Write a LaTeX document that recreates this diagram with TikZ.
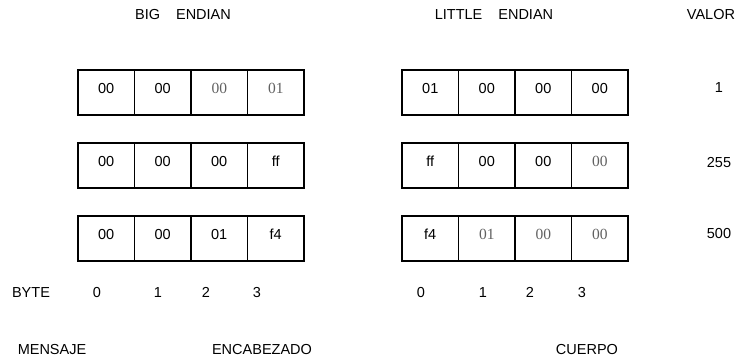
\documentclass[tikz,border=0pt]{standalone}
\usepackage{fontspec}
\setmainfont{Liberation Sans}
\newfontfamily\serifnum{Liberation Serif}
\newcommand\gsn[1]{{\serifnum\fontsize{15.5}{17}\selectfont\color{black!62}#1}}
\begin{document}
\begin{tikzpicture}[x=1pt,y=-1pt,
  cell/.style={draw=black, line width=1.3pt, minimum width=56.5pt, minimum height=45pt,
    inner sep=0pt, text height=10.5pt, text depth=8pt, font=\fontsize{14.5}{17}\selectfont},
  lbl/.style={anchor=base, inner sep=0pt, font=\fontsize{14.5}{17}\selectfont}]
\useasboundingbox (0,0) rectangle (739,360);
% titles
\node[lbl] (tbig) at (183,19.5) {BIG\hspace{16pt}ENDIAN};
\node[lbl] (tlittle) at (494,19.5) {LITTLE\hspace{16pt}ENDIAN};
\node[lbl] (tvalor) at (711,19.5) {VALOR};
% big endian cells
\foreach \r/\y/\a/\b/\c/\d in {1/92.5/00/00/\gsn{00}/\gsn{01}, 2/165.5/00/00/00/ff, 3/238.5/00/00/01/f4}{
  \node[cell] (be\r c1) at (106.25,\y) {\a};
  \node[cell] (be\r c2) at (162.75,\y) {\b};
  \node[cell] (be\r c3) at (219.25,\y) {\c};
  \node[cell] (be\r c4) at (275.75,\y) {\d};
}
% little endian cells
\foreach \r/\y/\a/\b/\c/\d in {1/92.5/01/00/00/00, 2/165.5/ff/00/00/\gsn{00}, 3/238.5/f4/\gsn{01}/\gsn{00}/\gsn{00}}{
  \node[cell] (le\r c1) at (430.25,\y) {\a};
  \node[cell] (le\r c2) at (486.75,\y) {\b};
  \node[cell] (le\r c3) at (543.25,\y) {\c};
  \node[cell] (le\r c4) at (599.75,\y) {\d};
}
% values
\node[lbl] (v1) at (719,92) {1};
\node[lbl] (v2) at (719,167) {255};
\node[lbl] (v3) at (719,238.5) {500};
% byte indices
\node[lbl] (byte) at (31,297) {BYTE};
\node[lbl] (bb0) at (97,297) {0};
\node[lbl] (bb1) at (158,297) {1};
\node[lbl] (bb2) at (206,297) {2};
\node[lbl] (bb3) at (257,297) {3};
\node[lbl] (lb0) at (421,297) {0};
\node[lbl] (lb1) at (483,297) {1};
\node[lbl] (lb2) at (530,297) {2};
\node[lbl] (lb3) at (582,297) {3};
% bottom labels
\node[lbl] (mens) at (52,354.5) {MENSAJE};
\node[lbl] (enc) at (262,354.5) {ENCABEZADO};
\node[lbl] (cuer) at (587,354.5) {CUERPO};
\end{tikzpicture}
\end{document}
